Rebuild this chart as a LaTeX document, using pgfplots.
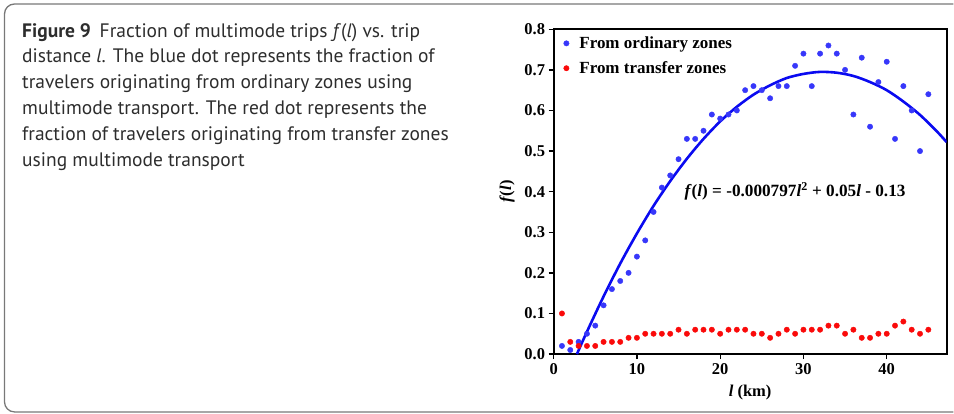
\documentclass[border=0pt]{standalone}
\usepackage{pgfplots}
\pgfplotsset{compat=1.18}
\usepackage{fontspec}
\setmainfont{Liberation Serif}
\newfontfamily\capfont{PT Sans}

\definecolor{dotblue}{RGB}{55,55,250}
\definecolor{fitblue}{RGB}{10,10,240}
\definecolor{dotred}{RGB}{250,10,10}
\definecolor{framegray}{RGB}{120,120,120}
\definecolor{captext}{RGB}{45,45,45}

% multimode share by trip distance, travelers from ordinary zones
\pgfplotstableread{
l f
1 0.02
2 0.01
3 0.03
4 0.05
5 0.07
6 0.12
7 0.16
8 0.18
9 0.20
10 0.24
11 0.28
12 0.35
13 0.41
14 0.44
15 0.48
16 0.53
17 0.53
18 0.55
19 0.59
20 0.58
21 0.59
22 0.60
23 0.65
24 0.66
25 0.65
26 0.63
27 0.66
28 0.66
29 0.71
30 0.74
31 0.66
32 0.74
33 0.76
34 0.74
35 0.70
36 0.59
37 0.73
38 0.56
39 0.67
40 0.72
41 0.53
42 0.66
43 0.60
44 0.50
45 0.64
}\ordinary

% travelers from transfer zones
\pgfplotstableread{
l f
1 0.10
2 0.03
3 0.02
4 0.02
5 0.02
6 0.03
7 0.03
8 0.03
9 0.04
10 0.04
11 0.05
12 0.05
13 0.05
14 0.05
15 0.06
16 0.05
17 0.06
18 0.06
19 0.06
20 0.05
21 0.06
22 0.06
23 0.06
24 0.05
25 0.05
26 0.04
27 0.05
28 0.06
29 0.05
30 0.06
31 0.06
32 0.06
33 0.07
34 0.07
35 0.05
36 0.06
37 0.04
38 0.04
39 0.05
40 0.05
41 0.07
42 0.08
43 0.06
44 0.05
45 0.06
}\transfer

% fitted quadratic curve
\pgfplotstableread{
l f
2.8 0.000
4 0.055
6 0.142
8 0.223
10 0.297
12 0.365
14 0.426
16 0.481
18 0.530
20 0.573
22 0.609
24 0.639
26 0.662
28 0.680
30 0.690
32 0.695
34 0.693
36 0.685
38 0.670
40 0.650
42 0.622
44 0.589
46 0.549
47.2 0.522
}\fitcurve

\begin{document}
\begin{tikzpicture}[x=1pt,y=1pt]
\begin{axis}[
  at={(554pt,59.7pt)}, anchor=south west,
  scale only axis, width=393.3pt, height=325pt,
  xmin=0, xmax=47.2, ymin=0, ymax=0.8,
  xtick={0,10,20,30,40},
  ytick={0,0.1,0.2,0.3,0.4,0.5,0.6,0.7,0.8},
  tick pos=left, tick align=outside,
  major tick length=5pt,
  every tick/.style={black, line width=1.3pt},
  axis line style={black, line width=2pt},
  /pgf/number format/assume math mode=true,
  ticklabel style={font=\fontsize{16.5}{18}\selectfont\bfseries},
  yticklabel style={/pgf/number format/.cd, fixed, fixed zerofill, precision=1},
  xticklabel style={yshift=-1pt},
  xlabel={\textit{l} (km)},
  ylabel={\textit{f}(\textit{l})},
  label style={font=\fontsize{16.5}{18}\selectfont\bfseries},
  xlabel style={yshift=-3pt},
  ylabel style={yshift=3pt},
  legend style={at={(0.004,0.99)}, anchor=north west, draw=none, fill=none,
    font=\fontsize{17}{19}\selectfont\bfseries, row sep=7.5pt,
    legend cell align=left},
  legend image code/.code={\path[draw=none] (0pt,0pt) -- (19pt,0pt);
    \draw[#1] plot coordinates {(8pt,0pt)};},
]
\addplot[only marks, mark=*, mark size=2.7pt, color=dotblue, mark options={draw=none, fill=dotblue}]
  table[x=l, y=f] {\ordinary};
\addlegendentry{From ordinary zones}
\addplot[only marks, mark=*, mark size=2.7pt, color=dotred, mark options={draw=none, fill=dotred}]
  table[x=l, y=f] {\transfer};
\addlegendentry{From transfer zones}
\addplot[fitblue, line width=2.6pt, smooth, forget plot]
  table[x=l, y=f] {\fitcurve};
\node[anchor=west, font=\fontsize{17.2}{19}\selectfont\bfseries]
  at (axis cs:15.3,0.40)
  {\textit{f}(\textit{l}) = -0.000797\textit{l}\textsuperscript{2} + 0.05\textit{l} - 0.13};
\end{axis}

% caption panel with its rounded frame, open to the right
\draw[framegray, line width=1.3pt, rounded corners=10pt]
  (954,410) -- (4.5,410) -- (4.5,1.8) -- (954,1.8);

\node[anchor=north west, align=left, inner sep=0pt, text=captext,
      font=\capfont\fontsize{19.5}{25.8}\selectfont] at (22,391)
{\textbf{Figure 9}\hspace{0.45em}Fraction of multimode trips \textit{f}(\textit{l}) vs. trip\\
distance \textit{l}. The blue dot represents the fraction of\\
travelers originating from ordinary zones using\\
multimode transport. The red dot represents the\\
fraction of travelers originating from transfer zones\\
using multimode transport};

\path (0,0) rectangle (954,414);
\end{tikzpicture}
\end{document}
